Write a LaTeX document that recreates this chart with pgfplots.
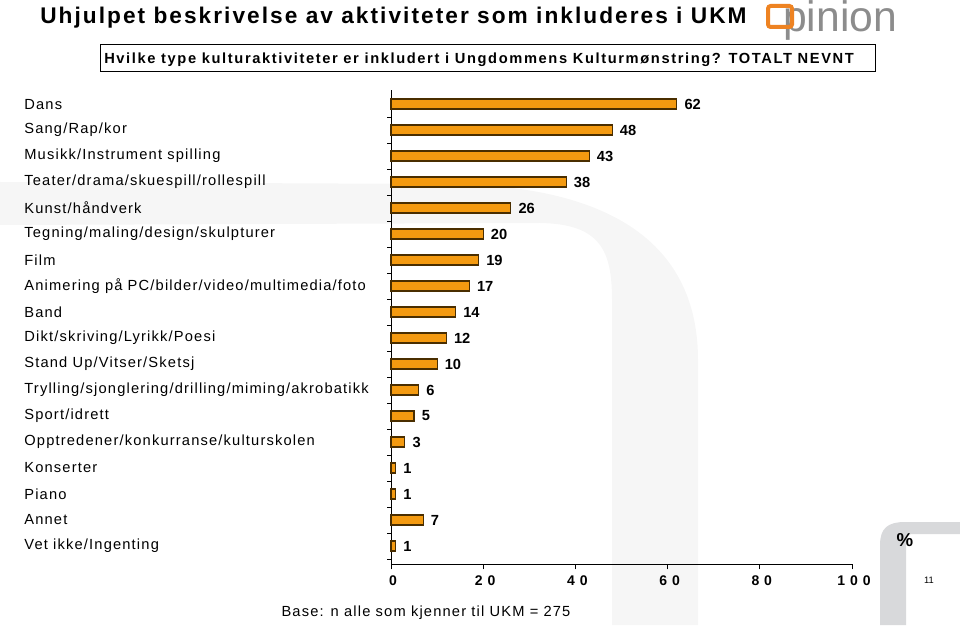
\documentclass[border=0pt]{standalone}
\usepackage{fontspec}
\setmainfont{Liberation Sans}
\usepackage{pgfplots}
\pgfplotsset{compat=1.18}
\newfontfamily\lab[LetterSpace=8]{Liberation Sans}
\newfontfamily\tit[LetterSpace=9]{Liberation Sans}
\newfontfamily\sub[LetterSpace=11]{Liberation Sans}
\newfontfamily\xl[LetterSpace=35]{Liberation Sans}
\definecolor{wm}{HTML}{F6F6F6}
\definecolor{cg}{HTML}{D8D9DB}
\definecolor{logoor}{HTML}{EE8322}
\definecolor{logogr}{HTML}{8C8C8C}
\definecolor{barfill}{HTML}{F49A10}
\definecolor{baredge}{HTML}{4A2E00}
\begin{document}
\begin{tikzpicture}
\path[use as bounding box] (0,0) rectangle (720pt,468.75pt);
\begin{scope}[x=0.75pt,y=-0.75pt,yshift=468.75pt]
% watermark
\fill[wm] (0,182) -- (450,184) .. controls (620,186) and (698,250) .. (698,360) -- (698,625) -- (612,625) -- (612,300) .. controls (612,250) and (600,224) .. (540,223) -- (0,225) -- cycle;
\fill[cg] (880,625) -- (880,545) .. controls (880,528) and (888,522) .. (905,522) -- (960,522) -- (960,534) -- (912,534) .. controls (907,534) and (906,538) .. (906,545) -- (906,625) -- cycle;
% title
\node[anchor=base west, inner sep=0pt, font=\tit\bfseries\fontsize{17}{19}\selectfont] at (40,23.5) {Uhjulpet beskrivelse av aktiviteter som inkluderes i UKM};
\draw[line width=0.75pt] (100,45) rectangle (875,72);
\node[anchor=base west, inner sep=0pt, font=\sub\bfseries\fontsize{11}{13}\selectfont] at (104,64) {Hvilke type kulturaktiviteter er inkludert i Ungdommens Kulturmønstring? TOTALT NEVNT};
% logo
\node[anchor=base west, inner sep=0pt, text=logogr, font=\fontsize{32}{34}\selectfont] at (783,32) {pinion};
\draw[logoor, line width=3pt, rounded corners=2pt] (768,6) rectangle (792,27);
% misc text
\node[font=\bfseries\fontsize{14}{16}\selectfont, inner sep=0pt] at (905,540) {\%};
\node[font=\fontsize{7}{8}\selectfont, inner sep=0pt] at (929,580) {11};
\node[anchor=base, inner sep=0pt, font=\lab\fontsize{11}{13}\selectfont] at (426,616) {Base: n alle som kjenner til UKM = 275};
\end{scope}
\begin{axis}[
  at={(293.25pt,45.75pt)}, anchor=south west,
  scale only axis, width=345.75pt, height=355.5pt,
  xmin=0, xmax=100, ymin=-0.692, ymax=17.54,
  xbar, bar width=7.5pt,
  axis lines*=left, axis line style={-, line width=0.6pt},
  /pgf/number format/assume math mode=true,
  xtick={0,20,...,100},
  ytick={0,...,17},
  minor ytick={-0.5,0.5,...,16.5},
  tick align=outside, major tick length=4pt, minor tick length=3pt,
  every major y tick/.append style={draw=none},
  tick style={black, line width=0.6pt},
  yticklabels={Vet ikke/Ingenting, Annet, Piano, Konserter, Opptredener/konkurranse/kulturskolen, Sport/idrett, Trylling/sjonglering/drilling/miming/akrobatikk, Stand Up/Vitser/Sketsj, Dikt/skriving/Lyrikk/Poesi, Band, Animering på PC/bilder/video/multimedia/foto, Film, Tegning/maling/design/skulpturer, Kunst/håndverk, Teater/drama/skuespill/rollespill, Musikk/Instrument spilling, Sang/Rap/kor, Dans},
  yticklabel style={anchor=west, xshift=-274.5pt, font=\lab\fontsize{11}{13}\selectfont},
  xticklabel style={font=\xl\bfseries\fontsize{10.5}{12}\selectfont, yshift=-1pt, xshift=1.5pt},
  nodes near coords,
  every node near coord/.append style={font=\bfseries\fontsize{11}{13}\selectfont, xshift=2pt},
  clip=false,
]
\addplot[draw=baredge, line width=0.9pt, fill=barfill] coordinates {
(1,0) (7,1) (1,2) (1,3) (3,4) (5,5) (6,6) (10,7) (12,8) (14,9) (17,10) (19,11) (20,12) (26,13) (38,14) (43,15) (48,16) (62,17)};
\end{axis}
\end{tikzpicture}
\end{document}
